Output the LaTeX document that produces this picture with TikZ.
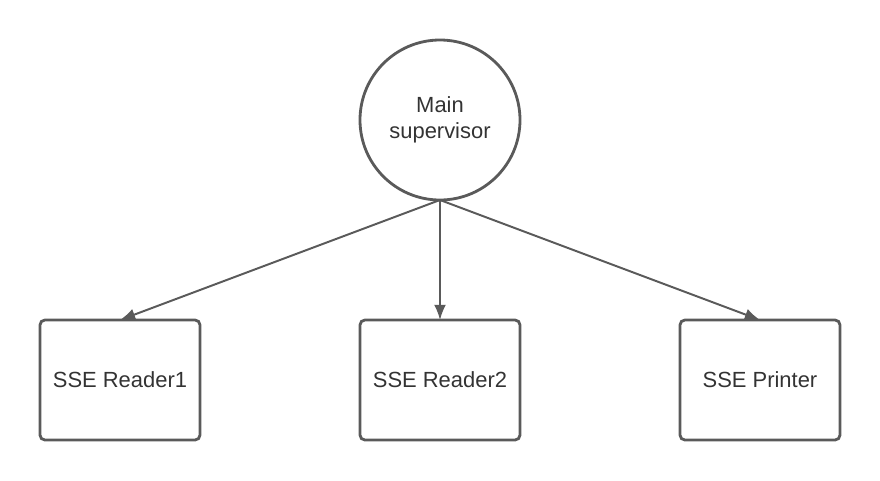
\documentclass[tikz,border=0pt]{standalone}
\usepackage{fontspec}
\setsansfont{Liberation Sans}
\usetikzlibrary{arrows.meta,positioning}
\definecolor{linegray}{HTML}{5A5A5A}
\definecolor{textgray}{HTML}{333333}

\begin{document}
\begin{tikzpicture}[font=\sffamily\fontsize{15.6}{18.6}\selectfont,>={Latex[length=3.8mm,width=3mm]},
 sup/.style={draw=linegray,line width=2pt,circle,minimum size=4cm,text=textgray,align=center,outer sep=0pt},
 unit/.style={draw=linegray,line width=2pt,rounded corners=3.5pt,minimum width=4cm,minimum height=3cm,text=textgray,align=center,outer sep=0pt},
 flow/.style={->,line width=1.4pt,linegray}]
\useasboundingbox (-11,3) rectangle (11,-9);
\node[sup] (main) {Main\\supervisor};
\node[unit,below=3cm of main] (reader2) {SSE Reader2};
\node[unit,left=4cm of reader2] (reader1) {SSE Reader1};
\node[unit,right=4cm of reader2] (printer) {SSE Printer};
\draw[flow] (main.south) -- (reader1.north);
\draw[flow] (main.south) -- (reader2.north);
\draw[flow] (main.south) -- (printer.north);
\end{tikzpicture}
\end{document}
